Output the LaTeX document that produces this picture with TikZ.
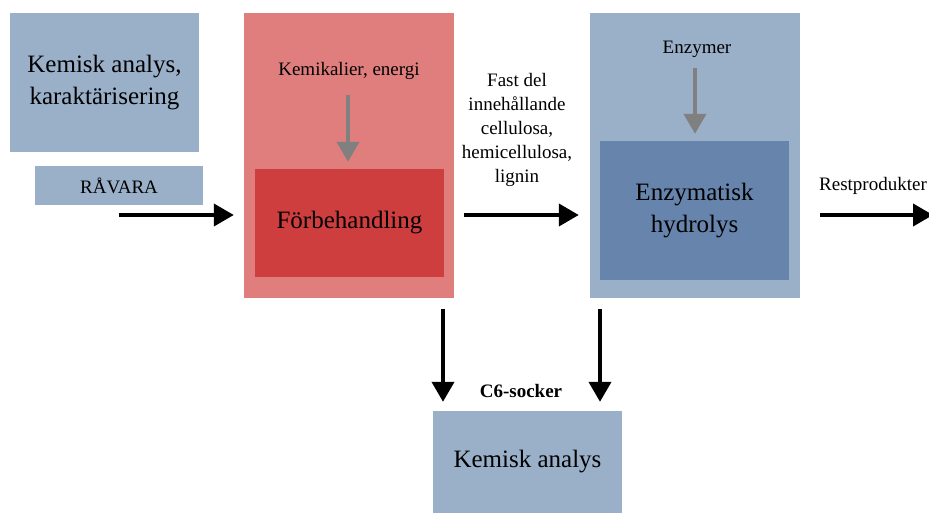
\documentclass[tikz,border=0pt]{standalone}
\usepackage{fontspec}
\setmainfont{Liberation Serif}
\usetikzlibrary{arrows.meta}
\definecolor{lblue}{HTML}{9AAFC8}
\definecolor{dblue}{HTML}{6684AC}
\definecolor{lred}{HTML}{E07E7E}
\definecolor{dred}{HTML}{CF3E3F}
\definecolor{garrow}{HTML}{808080}
\tikzset{
  box/.style={inner sep=0pt, align=center, font=\fontsize{25}{32}\selectfont},
  lbl/.style={inner sep=0pt, align=center, font=\fontsize{19}{24}\selectfont},
  flow/.style={line width=4pt, black, -{Triangle[length=20pt,width=22pt]}},
  feed/.style={line width=4pt, garrow, -{Triangle[length=20pt,width=22pt]}},
}
\begin{document}
\begin{tikzpicture}[x=1pt,y=-1pt]
\useasboundingbox (0,0) rectangle (929,513);
% left boxes
\node[box, fill=lblue, minimum width=189pt, minimum height=139pt] (ka) at (104.5,82.5) {Kemisk analys,\\karaktärisering};
\node[lbl, fill=lblue, minimum width=168pt, minimum height=39pt] (rav) at (119,185.5) {RÅVARA};
% Förbehandling
\node[fill=lred, inner sep=0pt, minimum width=210pt, minimum height=285pt] (forout) at (349,155.5) {};
\node[box, fill=dred, minimum width=189pt, minimum height=108pt] (forin) at (349.5,223) {Förbehandling};
\node[lbl] (kem) at (349,70.5) {Kemikalier, energi};
% Enzymatisk hydrolys
\node[fill=lblue, inner sep=0pt, minimum width=210pt, minimum height=285pt] (enzout) at (695,155.5) {};
\node[box, fill=dblue, minimum width=189pt, minimum height=139pt] (enzin) at (694.5,210.5) {Enzymatisk\\hydrolys};
\node[lbl] (enz) at (697,49.5) {Enzymer};
% middle label
\node[lbl] (fast) at (517,130) {Fast del\\innehållande\\cellulosa,\\hemicellulosa,\\lignin};
\node[lbl] (rest) at (873,186) {Restprodukter};
% bottom
\node[box, fill=lblue, minimum width=189pt, minimum height=102pt] (kab) at (527.5,462) {Kemisk analys};
\node[lbl, font=\fontsize{19}{24}\selectfont\bfseries] (c6) at (521,391) {C6-socker};
% connectors
\coordinate (a1s) at (119,215);
\coordinate (a2s) at (464,215);
\coordinate (a3s) at (820,215);
\coordinate (a3e) at (933,215);
\coordinate (g1s) at (348,95);
\coordinate (g2s) at (695,68);
\coordinate (d1s) at (443,309);
\coordinate (d2s) at (600,309);
\draw[flow, shorten >=10pt] (a1s) -- (a1s -| forout.west);
\draw[flow, shorten >=11pt] (a2s) -- (a2s -| enzout.west);
\draw[flow] (a3s) -- (a3e);
\draw[feed, shorten >=7pt] (g1s) -- (g1s |- forin.north);
\draw[feed, shorten >=7pt] (g2s) -- (g2s |- enzin.north);
\draw[flow, shorten >=9pt] (d1s) -- (d1s |- kab.north);
\draw[flow, shorten >=9pt] (d2s) -- (d2s |- kab.north);
\end{tikzpicture}
\end{document}
